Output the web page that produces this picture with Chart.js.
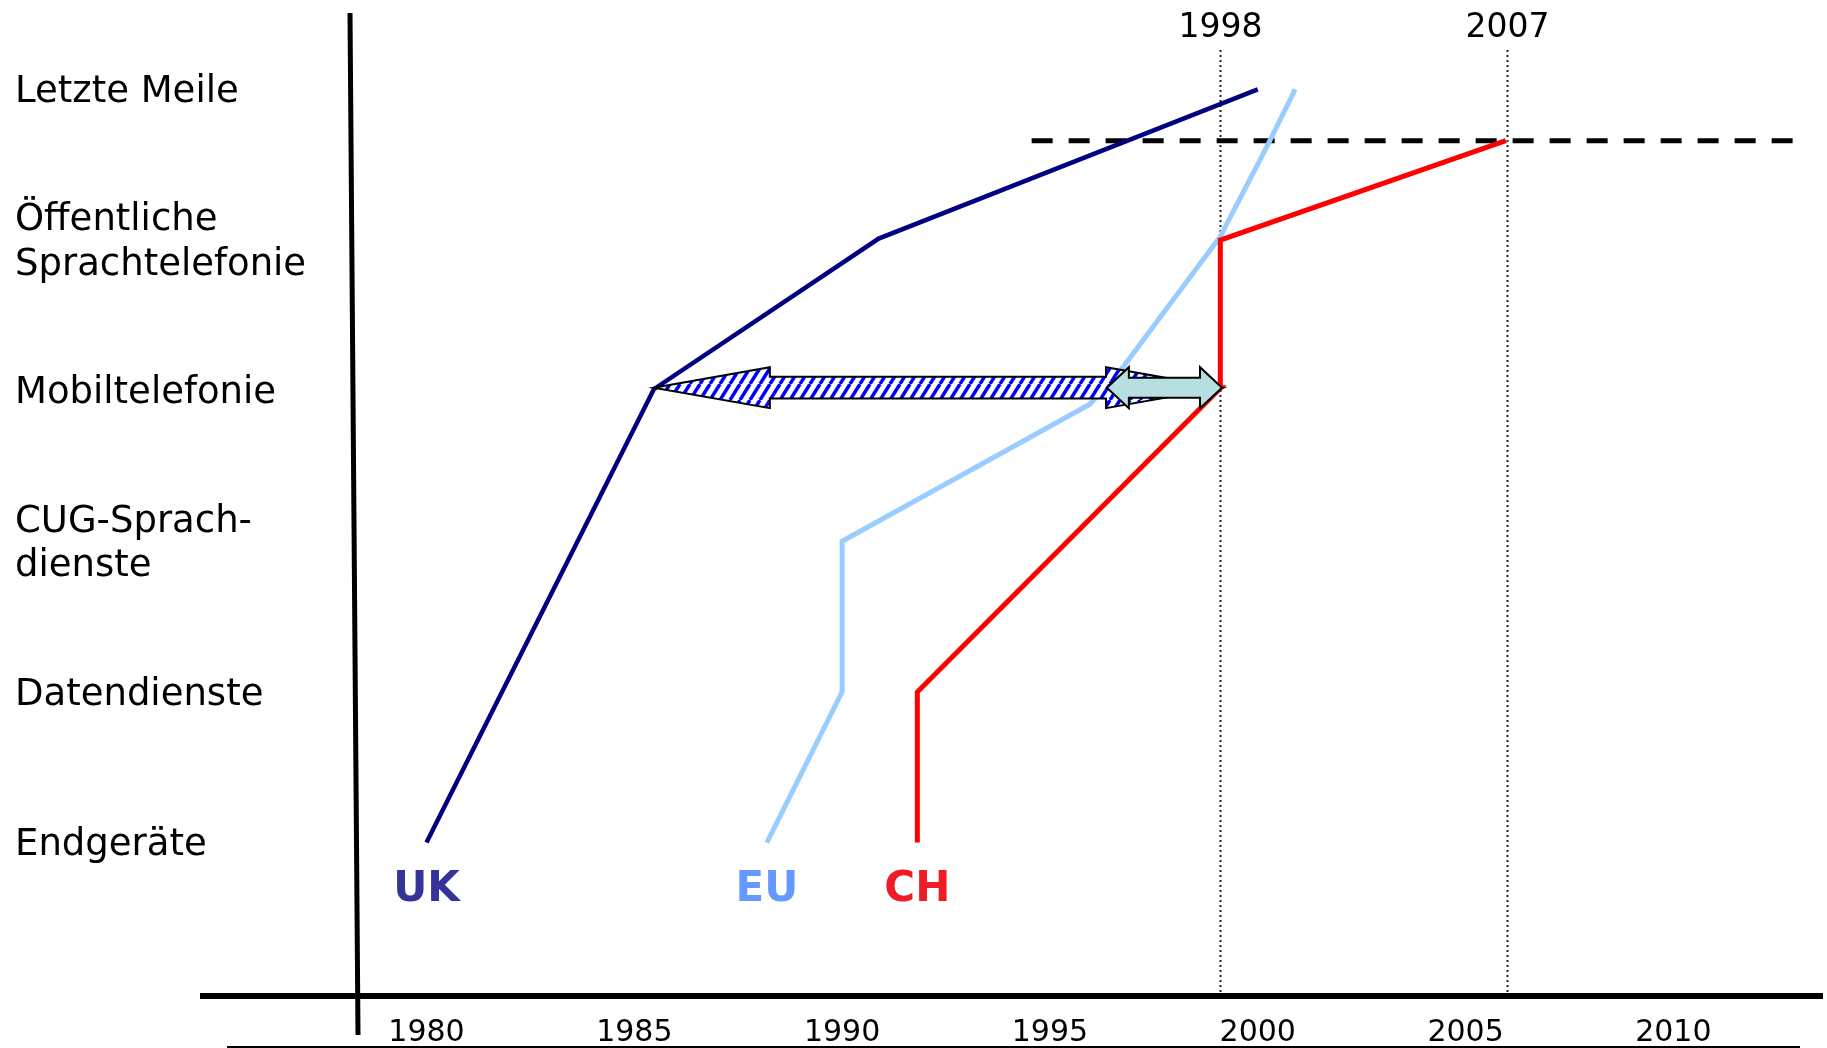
<!DOCTYPE html>
<html>
<head>
<meta charset="utf-8">
<title>Liberalisierung: UK, EU, CH</title>
<script src="https://cdn.jsdelivr.net/npm/chart.js@4"></script>
<style>
  html, body { margin: 0; padding: 0; background: #fff; }
  canvas { display: block; }
</style>
</head>
<body>
<canvas id="chart" width="1827" height="1048"></canvas>
<script>
// ------------------------
// DATA
// ------------------------

// service levels, bottom (0) to top (5)
const categories = [
  'Endgeräte',
  'Datendienste',
  ['CUG-Sprach-', 'dienste'],
  'Mobiltelefonie',
  ['Öffentliche', 'Sprachtelefonie'],
  'Letzte Meile'
];
const levels = [0, 1, 2, 3, 4, 5];
const yearTicks = [1980, 1985, 1990, 1995, 2000, 2005, 2010];

const ukYears  = [1980.0, 1985.47, 1990.88, 2000.0];
const ukLevels = [0, 3.01, 4.01, 5];

const euYears  = [1988.19, 1990.0, 1990.0, 1995.96, 1996.77, 1997.93, 1999.09, 2000.22, 2000.9];
const euLevels = [0, 1, 2, 2.91, 3.16, 3.59, 4.02, 4.62, 5];

const chYears  = [1991.81, 1991.81, 1999.11, 1999.1, 2005.97];
const chLevels = [0, 1, 3.02, 4, 4.66];

const seriesNames = ['UK', 'EU', 'CH'];

// marker lines at the top
const markerYears  = [1999.1, 2006.0];
const markerLabels = ['1998', '2007'];

// dashed target line (full liberalisation)
const targetYears = [1994.56, 2012.9];
const targetLevel = 4.66;

// gap arrows at the Mobiltelefonie level
const gapUK = [1985.47, 1999.14];
const gapEU = [1996.37, 1999.14];
const gapLevel = 3.02;

// ------------------------
// HELPERS
// ------------------------

const FONT = "'DejaVu Sans', Verdana, sans-serif";

function toPoints(xs, ys) {
  return xs.map((x, i) => ({ x, y: ys[i] }));
}

function hatchPattern(ctx) {
  const tile = document.createElement('canvas');
  tile.width = 10;
  tile.height = 16;
  const t = tile.getContext('2d');
  t.fillStyle = '#fff';
  t.fillRect(0, 0, 10, 16);
  t.strokeStyle = '#0000ff';
  t.lineWidth = 3.5;
  [-10, 0, 10].forEach(off => {
    t.beginPath();
    t.moveTo(off, 16);
    t.lineTo(off + 10, 0);
    t.stroke();
  });
  return ctx.createPattern(tile, 'repeat');
}

function doubleArrow(ctx, x0, x1, yc, headLen, headHalf, shaftHalf, fill) {
  ctx.beginPath();
  ctx.moveTo(x0, yc);
  ctx.lineTo(x0 + headLen, yc - headHalf);
  ctx.lineTo(x0 + headLen, yc - shaftHalf);
  ctx.lineTo(x1 - headLen, yc - shaftHalf);
  ctx.lineTo(x1 - headLen, yc - headHalf);
  ctx.lineTo(x1, yc);
  ctx.lineTo(x1 - headLen, yc + headHalf);
  ctx.lineTo(x1 - headLen, yc + shaftHalf);
  ctx.lineTo(x0 + headLen, yc + shaftHalf);
  ctx.lineTo(x0 + headLen, yc + headHalf);
  ctx.closePath();
  ctx.fillStyle = fill;
  ctx.fill();
  ctx.lineWidth = 2;
  ctx.strokeStyle = '#000';
  ctx.lineJoin = 'miter';
  ctx.stroke();
}

// ------------------------
// OVERLAY (axes, markers, arrows, labels)
// ------------------------

const overlay = {
  id: 'overlay',
  beforeDatasetsDraw(chart) {
    const { ctx, chartArea: area, scales: { x, y } } = chart;
    ctx.save();

    // axis lines
    ctx.strokeStyle = '#000';
    ctx.lineWidth = 6;
    ctx.beginPath();
    ctx.moveTo(200, area.bottom);
    ctx.lineTo(area.right, area.bottom);
    ctx.stroke();

    ctx.lineWidth = 5;
    ctx.beginPath();
    ctx.moveTo(area.left - 5, 13);
    ctx.lineTo(area.left + 3, 1035);
    ctx.stroke();

    ctx.lineWidth = 2;
    ctx.beginPath();
    ctx.moveTo(227, 1047);
    ctx.lineTo(1800, 1047);
    ctx.stroke();

    // dotted year markers
    ctx.fillStyle = '#000';
    ctx.font = '33px ' + FONT;
    ctx.textAlign = 'center';
    ctx.textBaseline = 'alphabetic';
    markerYears.forEach((yr, i) => {
      const px = Math.round(x.getPixelForValue(yr)) + 0.5;
      ctx.save();
      ctx.strokeStyle = '#222';
      ctx.lineWidth = 2;
      ctx.setLineDash([2, 3]);
      ctx.beginPath();
      ctx.moveTo(px, 50);
      ctx.lineTo(px, area.bottom - 3);
      ctx.stroke();
      ctx.restore();
      ctx.fillText(markerLabels[i], px, 37);
    });

    // dashed target line
    const ty = y.getPixelForValue(targetLevel);
    ctx.strokeStyle = '#000';
    ctx.lineWidth = 5;
    ctx.setLineDash([21, 16]);
    ctx.beginPath();
    ctx.moveTo(x.getPixelForValue(targetYears[0]), ty);
    ctx.lineTo(x.getPixelForValue(targetYears[1]), ty);
    ctx.stroke();
    ctx.setLineDash([]);

    ctx.restore();
  },
  afterDatasetsDraw(chart) {
    const { ctx, scales: { x, y } } = chart;
    ctx.save();

    // gap arrows
    const ay = y.getPixelForValue(gapLevel);
    doubleArrow(ctx, x.getPixelForValue(gapUK[0]), x.getPixelForValue(gapUK[1]),
      ay, 116, 20.5, 10.8, hatchPattern(ctx));
    doubleArrow(ctx, x.getPixelForValue(gapEU[0]), x.getPixelForValue(gapEU[1]),
      ay, 22, 20.5, 10, '#b7dfe1');

    // series names under the start of each line
    const labelColors = ['#333399', '#6699ff', '#ee1c24'];
    const starts = [ukYears[0], euYears[0], chYears[0]];
    ctx.font = 'bold 42px ' + FONT;
    ctx.textAlign = 'center';
    ctx.textBaseline = 'alphabetic';
    seriesNames.forEach((name, i) => {
      ctx.fillStyle = labelColors[i];
      ctx.fillText(name, x.getPixelForValue(starts[i]), y.getPixelForValue(-0.39));
    });

    ctx.restore();
  }
};

// ------------------------
// CHART
// ------------------------

Chart.defaults.font.family = FONT;
Chart.defaults.color = '#000';

new Chart(document.getElementById('chart'), {
  type: 'line',
  data: {
    datasets: [
      {
        label: seriesNames[0],
        data: toPoints(ukYears, ukLevels),
        borderColor: '#000080',
        borderWidth: 4.5,
        order: 2
      },
      {
        label: seriesNames[1],
        data: toPoints(euYears, euLevels),
        borderColor: '#99ccff',
        borderWidth: 5,
        order: 1
      },
      {
        label: seriesNames[2],
        data: toPoints(chYears, chLevels),
        borderColor: '#ff0000',
        borderWidth: 5,
        order: 0
      }
    ]
  },
  options: {
    responsive: false,
    animation: false,
    events: [],
    layout: { padding: { left: 15, top: 14, right: 4, bottom: 0 } },
    elements: {
      point: { radius: 0 },
      line: { tension: 0, borderJoinStyle: 'miter', borderCapStyle: 'butt', fill: false }
    },
    plugins: {
      legend: { display: false },
      tooltip: { enabled: false }
    },
    scales: {
      x: {
        type: 'linear',
        min: 1978.28,
        max: 2013.6,
        grid: { display: false },
        border: { display: false },
        afterBuildTicks: scale => { scale.ticks = yearTicks.map(v => ({ value: v })); },
        afterFit: scale => {
          scale.height = 52;
          scale.paddingLeft = 0;
          scale.paddingRight = 0;
        },
        ticks: {
          autoSkip: false,
          maxRotation: 0,
          padding: 11,
          font: { size: 30 },
          callback: v => String(v)
        }
      },
      y: {
        type: 'linear',
        min: -1.019,
        max: 5.501,
        grid: { display: false },
        border: { display: false },
        afterBuildTicks: scale => { scale.ticks = levels.map(v => ({ value: v })); },
        afterFit: scale => {
          scale.width = 340;
          scale.paddingTop = 0;
          scale.paddingBottom = 0;
        },
        ticks: {
          autoSkip: false,
          crossAlign: 'far',
          labelOffset: 3,
          font: { size: 37, lineHeight: 1.2 },
          callback: (v, i) => categories[i]
        }
      }
    }
  },
  plugins: [overlay]
});
</script>
</body>
</html>
